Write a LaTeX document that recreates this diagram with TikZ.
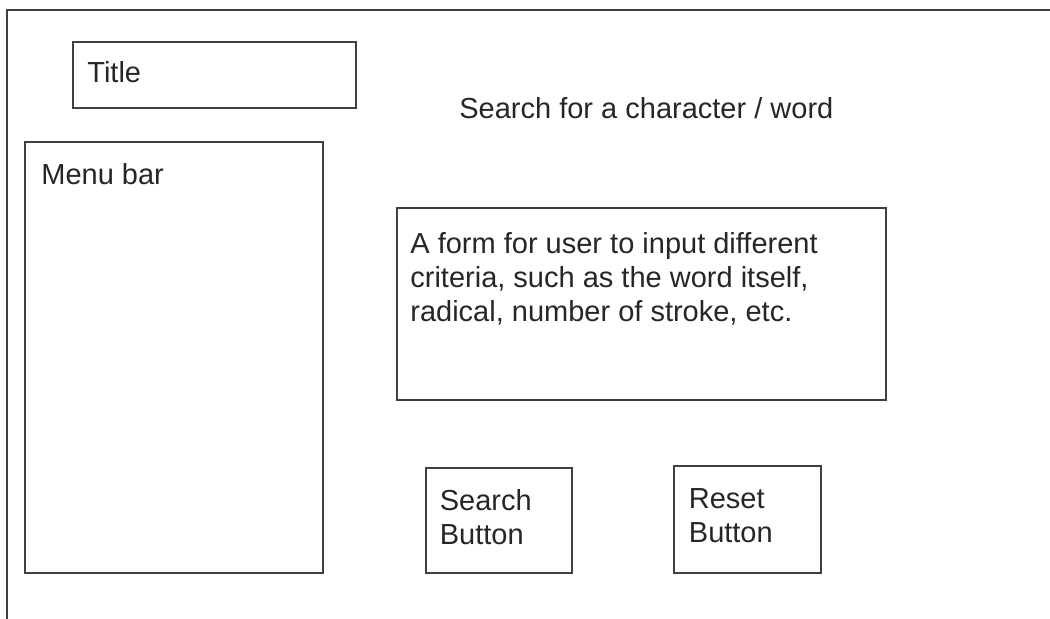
\documentclass[tikz,border=0pt]{standalone}
\usepackage{fontspec}
\setmainfont{Liberation Sans}
\usetikzlibrary{positioning}

\begin{document}
\begin{tikzpicture}
[x=0.5pt,y=-0.5pt,
   box/.style={draw=black!75,line width=1pt},
   lbl/.style={inner sep=0pt,text=black!85,font=\fontsize{14.5pt}{17pt}\selectfont}
  ]
 \useasboundingbox (0,0) rectangle (1050,619);

 % page frame
 \draw[box] (1050,10.5) -- (7,10.5) -- (7,619);

 \draw[box] (73,42) rectangle (356,108);
 \node[lbl,anchor=base west] (title) at (87,82.5) {Title};

 \draw[box] (25,142) rectangle (323,573);
 \node[lbl,anchor=base west] (menu) at (41,184.5) {Menu bar};

 \node[lbl,anchor=base west] (heading) at (459,118.5) {Search for a character / word};

 \draw[box] (397,208.5) rectangle (886,400);
 \node[lbl,anchor=north west,align=left] (form) at (410,232) {A form for user to input different\\criteria, such as the word itself,\\radical, number of stroke, etc.};

 \draw[box] (425.5,468.5) rectangle (572,573);
 \node[lbl,anchor=north west,align=left] (search) at (439.5,489) {Search\\Button};

 \draw[box] (674,466.5) rectangle (820.5,573);
 \node[lbl,anchor=north west,align=left] (reset) at (688.5,488) {Reset\\Button};

\end{tikzpicture}
\end{document}
